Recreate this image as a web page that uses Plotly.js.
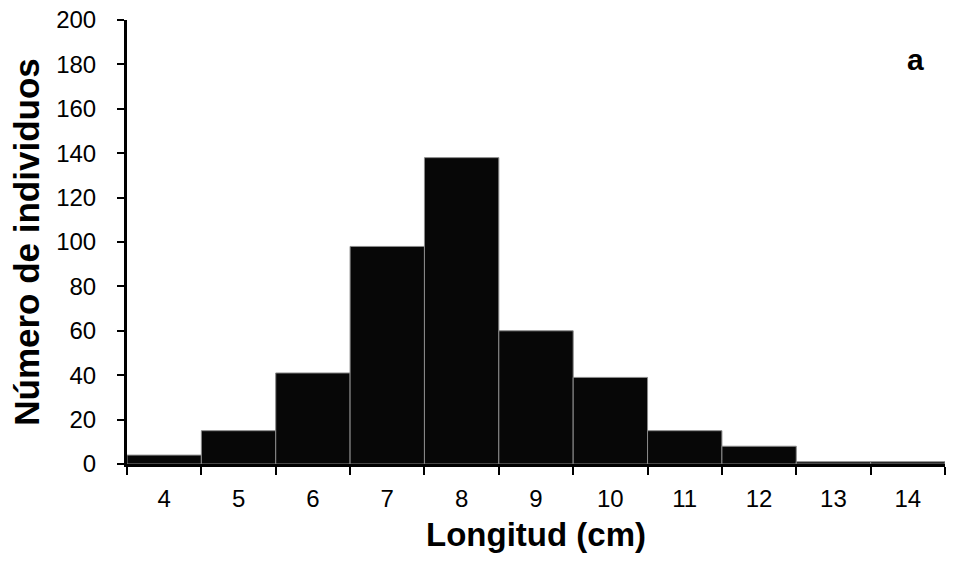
<!DOCTYPE html>
<html><head><meta charset="utf-8">
<script src="https://cdn.plot.ly/plotly-3.0.1.min.js"></script>
<style>body{margin:0;background:#fff}#c{width:959px;height:571px}</style>
</head><body><div id="c"></div>
<script>
const categories = ['4','5','6','7','8','9','10','11','12','13','14'];
const counts = [4, 15, 41, 98, 138, 60, 39, 15, 8, 1, 1];
const yTicks = [0,20,40,60,80,100,120,140,160,180,200];

const trace = {
  type: 'bar', x: categories, y: counts,
  marker: {color: '#070707', line: {color: '#8a8a8a', width: 1}},
  width: 1, hoverinfo: 'skip'
};
const font = {family: 'Liberation Sans, Arial, sans-serif', color: '#000'};
const layout = {
  width: 959, height: 571,
  margin: {l: 127, r: 14, t: 20, b: 107},
  paper_bgcolor: '#fff', plot_bgcolor: '#fff',
  showlegend: false, bargap: 0,
  font: font,
  xaxis: {
    type: 'category', tickson: 'boundaries', ticks: 'outside', ticklen: 8, tickwidth: 2, tickcolor: '#000',
    showline: true, linecolor: '#000', linewidth: 3, showgrid: false, zeroline: false,
    ticklabelstandoff: 11,
    tickfont: {size: 24, family: font.family, color: '#000'},
    title: {text: '<b>Longitud (cm)</b>', font: {size: 33, family: font.family, color: '#000'}, standoff: 13}
  },
  yaxis: {
    range: [0, 200], tickvals: yTicks, ticks: 'outside', ticklen: 7, tickwidth: 2, tickcolor: '#000',
    showline: true, linecolor: '#000', linewidth: 3, showgrid: false, zeroline: false,
    ticklabelstandoff: 16,
    tickfont: {size: 24, family: font.family, color: '#000'},
    title: {text: '<b>Número de individuos</b>', font: {size: 35, family: font.family, color: '#000'}, standoff: 6}
  },
  annotations: [{text: '<b>a</b>', xref: 'paper', yref: 'paper', x: 0.964, y: 0.91,
    xanchor: 'center', yanchor: 'middle', showarrow: false, font: {size: 30, family: font.family, color: '#000'}}]
};
Plotly.newPlot('c', [trace], layout, {displayModeBar: false, staticPlot: true});
</script></body></html>
